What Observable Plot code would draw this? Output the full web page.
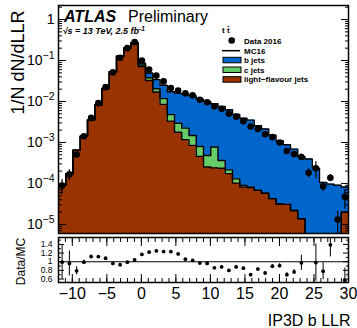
<!DOCTYPE html>
<html><head><meta charset="utf-8">
<script src="https://cdn.jsdelivr.net/npm/d3@7"></script>
<script src="https://cdn.jsdelivr.net/npm/@observablehq/plot@0.6"></script>
<style>
body{margin:0;background:#fff;}
#wrap{position:relative;width:357px;height:328px;}
#main,#ratio{position:absolute;left:0;}
#main{top:0;}
#ratio{top:235px;}
</style></head><body>
<div id="wrap"><div id="main"></div><div id="ratio"></div></div>
<script>
// ---- data (40 bins between -12 and 30) ----
const xDomain = [-12, 30];
const nBins = 40;
const dataVals = [8.9e-5, 1.66e-4, 5.1e-4, 1.41e-3, 3.98e-3, 9.1e-3, 0.0224, 0.0513, 0.117, 0.200,
  0.282, 0.100, 0.0603, 0.0427, 0.0309, 0.0214, 0.0186, 0.0158, 0.0141, 0.0110,
  0.00955, 0.00759, 0.00661, 0.00501, 0.00427, 0.00331, 0.00245, 0.00214, 0.00158, 0.00135,
  0.00100, 6.2e-4, 5.2e-4, 4.4e-4, 1.82e-4, 2.34e-4, 8.5e-5, 1.38e-4, 1.32e-5, 4.7e-5];
const relErr = [0.4, 0.3, 0.12, 0.05, 0.03, 0.02, 0.02, 0.02, 0.02, 0.02,
  0.02, 0.02, 0.02, 0.02, 0.02, 0.02, 0.02, 0.02, 0.02, 0.02,
  0.02, 0.025, 0.025, 0.03, 0.03, 0.03, 0.035, 0.035, 0.04, 0.04,
  0.05, 0.07, 0.07, 0.18, 0.25, 0.44, 0.25, 0.2, 0.6, 0.5];
const light = [8.99e-5, 1.73e-4, 6.49e-4, 1.426e-3, 3.56e-3, 8.15e-3, 0.02075, 0.0535, 0.1265, 0.2014,
  0.271, 0.0714, 0.0324, 0.0170, 0.00851, 0.00331, 0.00178, 0.001175, 0.000851, 0.000457,
  0.000251, 0.00024, 0.000234, 0.000174, 0.000102, 8.13e-5, 7.94e-5, 6.76e-5, 5.75e-5, 4.27e-5,
  3.16e-5, 3.09e-5, 2.19e-5, 1.38e-5, 0, 0, 0, 0, 0, 2.0e-5];
const cJets = [0, 0, 0, 0, 0, 0, 0, 0, 0, 0,
  0, 0.0062, 0.0056, 0.0034, 0.00324, 0.00148, 0.00117, 0.00106, 0.00063, 0.000337,
  0.000228, 0.000536, 0.000129, 4.0e-5, 2.7e-5, 7.8e-6, 1.8e-6, 1.0e-6, 0, 0,
  0, 0, 0, 0, 0, 0, 0, 0, 0, 0];
const bJets = [0, 0, 0, 0, 0, 0, 0, 0, 0, 0,
  0, 0.0079, 0.0114, 0.0137, 0.01325, 0.01251, 0.01283, 0.01272, 0.01223, 0.01051,
  0.00947, 0.00805, 0.00716, 0.00606, 0.00472, 0.00381, 0.00343, 0.00251, 0.00208, 0.00147,
  0.00107, 0.00085, 0.000664, 0.000434, 0.000395, 0.000237, 0.000106, 9.63e-5, 9.03e-5, 6.2e-5];
const ratio = [0.99, 0.96, 0.79, 0.99, 1.12, 1.12, 1.08, 0.96, 0.93, 0.99,
  1.04, 1.17, 1.22, 1.25, 1.235, 1.235, 1.18, 1.06, 1.03, 0.97,
  0.96, 0.86, 0.88, 0.80, 0.88, 0.85, 0.70, 0.83, 0.74, 0.895,
  0.91, 0.70, 0.765, 0.975, null, 0.98, 0.78, 1.39, null, 0.57];

const yTicks = [1e-5, 1e-4, 1e-3, 1e-2, 1e-1, 1];
const xTicks = [-10, -5, 0, 5, 10, 15, 20, 25, 30];
const rTicks = [0.6, 0.8, 1, 1.2, 1.4];
const seriesNames = ["b jets", "c jets", "light\u2212flavour jets"];
const dataName = "Data 2016", mcName = "MC16", procName = "t  t\u0304";
const yTitle = "1/N dN/dLLR", xTitle = "IP3D b LLR", rTitle = "Data/MC";
const atlasText = "ATLAS", statusText = "Preliminary", energyText = "\u221As = 13 TeV, 2.5 fb", lumiExp = "-1";
const colors = {b: "#0066cc", c: "#66cc66", light: "#993300"};

// ---- derived structures ----
const yDomain = [6.0e-6, 2.2];
const rDomain = [0.52, 1.56];
const floorV = 1e-8;
const bw = (xDomain[1] - xDomain[0]) / nBins;
const edges = d3.range(nBins + 1).map(i => xDomain[0] + i * bw);
const centers = d3.range(nBins).map(i => xDomain[0] + (i + 0.5) * bw);
const steps = edges.map((x, i) => {
  const k = Math.min(i, nBins - 1);
  const l = light[k], c = l + cJets[k], m = c + bJets[k];
  return {x, l: Math.max(l, floorV), c: Math.max(c, floorV), m: Math.max(m, floorV)};
});
const pts = centers.map((x, i) => ({x, v: dataVals[i], lo: dataVals[i] * (1 - relErr[i]), hi: dataVals[i] * (1 + relErr[i])}));
const rpts = centers.map((x, i) => ({x, r: ratio[i], lo: ratio[i] * (1 - relErr[i]), hi: ratio[i] * (1 + relErr[i])})).filter(d => d.r != null);
const yMinor = [];
for (let e = -6; e <= 0; e++) for (let k = 2; k <= 9; k++) { const v = k * 10 ** e; if (v >= yDomain[0] && v <= yDomain[1]) yMinor.push(v); }
const xMinor = d3.range(-12, 31, 1);
const rMinor = [0.7, 0.9, 1.1, 1.3, 1.5];

const font = "'Liberation Sans', Arial, Helvetica, sans-serif";
const none = () => "";
const fmtExp = d => d === 1 ? "1" : "10^\u2212" + Math.round(-Math.log10(d));

const mainPlot = Plot.plot({
  width: 357, height: 235, marginLeft: 58, marginRight: 9, marginTop: 5, marginBottom: 2,
  style: {fontFamily: font, background: "transparent", overflow: "visible", color: "black"},
  x: {domain: xDomain, axis: null},
  y: {type: "log", domain: yDomain},
  marks: [
    Plot.areaY(steps, {x: "x", y1: floorV, y2: "l", curve: "step-after", fill: colors.light, clip: true}),
    Plot.areaY(steps, {x: "x", y1: "l", y2: "c", curve: "step-after", fill: colors.c, clip: true}),
    Plot.areaY(steps, {x: "x", y1: "c", y2: "m", curve: "step-after", fill: colors.b, clip: true}),
    Plot.lineY(steps, {x: "x", y: "l", curve: "step-after", stroke: "black", strokeWidth: 1.4, clip: true}),
    Plot.lineY(steps, {x: "x", y: "c", curve: "step-after", stroke: "black", strokeWidth: 1.4, clip: true}),
    Plot.lineY(steps, {x: "x", y: "m", curve: "step-after", stroke: "black", strokeWidth: 1.4, clip: true}),
    Plot.ruleX(pts, {x: "x", y1: "lo", y2: "hi", stroke: "black", strokeWidth: 1.2, clip: true}),
    Plot.dot(pts, {x: "x", y: "v", r: 3.3, fill: "black", clip: true}),
    Plot.frame({stroke: "black", strokeWidth: 1.5}),
    Plot.axisY({anchor: "left", ticks: yTicks, tickSize: -8, tickPadding: 12, tickFormat: fmtExp, fontSize: 14, label: null}),
    Plot.axisY({anchor: "left", ticks: yMinor, tickSize: -4, tickFormat: none, label: null}),
    Plot.axisY({anchor: "right", ticks: yTicks, tickSize: -8, tickFormat: none, label: null}),
    Plot.axisY({anchor: "right", ticks: yMinor, tickSize: -4, tickFormat: none, label: null}),
    Plot.text([yTitle], {frameAnchor: "top-left", dx: -40.5, dy: 5, rotate: -90, textAnchor: "end", lineAnchor: "middle", fontSize: 18})
  ]
});
document.getElementById("main").appendChild(mainPlot);
mainPlot.querySelectorAll("text").forEach(t => {
  const s = t.textContent;
  if (s.includes("^")) {
    const [b, e] = s.split("^");
    t.textContent = b;
    const ts = document.createElementNS("http://www.w3.org/2000/svg", "tspan");
    ts.setAttribute("dy", "-0.6em");
    ts.setAttribute("font-size", "10.5");
    ts.textContent = e;
    t.appendChild(ts);
  }
});

const ratioPlot = Plot.plot({
  width: 357, height: 93, marginLeft: 58, marginRight: 9, marginTop: 2, marginBottom: 46,
  style: {fontFamily: font, background: "transparent", overflow: "visible", color: "black"},
  x: {domain: xDomain},
  y: {domain: rDomain},
  marks: [
    Plot.ruleY([1], {stroke: "black", strokeWidth: 1.2}),
    Plot.ruleX(rpts, {x: "x", y1: "lo", y2: "hi", stroke: "black", strokeWidth: 1, clip: true}),
    Plot.dot(rpts, {x: "x", y: "r", r: 1.9, fill: "black", clip: true}),
    Plot.frame({stroke: "black", strokeWidth: 1.5}),
    Plot.axisX({anchor: "bottom", ticks: xTicks, tickSize: -8, tickPadding: 13, fontSize: 16, label: null,
      tickFormat: d => d < 0 ? "\u2212" + Math.abs(d) : String(d)}),
    Plot.axisX({anchor: "bottom", ticks: xMinor, tickSize: -4, tickFormat: none, label: null}),
    Plot.axisX({anchor: "top", ticks: xTicks, tickSize: -8, tickFormat: none, label: null}),
    Plot.axisX({anchor: "top", ticks: xMinor, tickSize: -4, tickFormat: none, label: null}),
    Plot.axisY({anchor: "left", ticks: rTicks, tickSize: -6, tickPadding: 12, fontSize: 8.5, label: null,
      tickFormat: d => String(d)}),
    Plot.axisY({anchor: "left", ticks: rMinor, tickSize: -3, tickFormat: none, label: null}),
    Plot.axisY({anchor: "right", ticks: rTicks, tickSize: -6, tickFormat: none, label: null}),
    Plot.axisY({anchor: "right", ticks: rMinor, tickSize: -3, tickFormat: none, label: null}),
    Plot.text([xTitle], {frameAnchor: "bottom-right", dx: 2, dy: 38, textAnchor: "end", lineAnchor: "middle", fontSize: 16}),
    Plot.text([rTitle], {frameAnchor: "left", dx: -37, dy: 1.5, rotate: -90, textAnchor: "middle", lineAnchor: "middle", fontSize: 12})
  ]
});
document.getElementById("ratio").appendChild(ratioPlot);

// ---- annotations and legend ----
const anno = d3.select("#wrap").append("svg")
  .attr("width", 357).attr("height", 328)
  .style("position", "absolute").style("left", "0px").style("top", "0px")
  .attr("font-family", font);
anno.append("text").attr("x", 64).attr("y", 22).attr("font-size", 16).attr("font-weight", "bold").attr("font-style", "italic").text(atlasText);
anno.append("text").attr("x", 128).attr("y", 22).attr("font-size", 16).text(statusText);
const en = anno.append("text").attr("x", 62.5).attr("y", 34).attr("font-size", 9).attr("font-weight", "bold").attr("font-style", "italic").text(energyText);
en.append("tspan").attr("dy", -3.5).attr("font-size", 6.5).text(lumiExp);

const lx = 222, tx = 244;
anno.append("text").attr("x", lx).attr("y", 33).attr("font-size", 8).attr("font-weight", "bold").text(procName);
anno.append("circle").attr("cx", 231.7).attr("cy", 40.5).attr("r", 3.3).attr("fill", "black");
anno.append("text").attr("x", tx).attr("y", 43.5).attr("font-size", 8).attr("font-weight", "bold").text(dataName);
anno.append("line").attr("x1", lx).attr("x2", 240).attr("y1", 50.7).attr("y2", 50.7).attr("stroke", "black").attr("stroke-width", 1.5);
anno.append("text").attr("x", tx).attr("y", 53.5).attr("font-size", 8).attr("font-weight", "bold").text(mcName);
const boxColors = [colors.b, colors.c, colors.light];
seriesNames.forEach((name, i) => {
  const y0 = 57.3 + i * 9.7;
  anno.append("rect").attr("x", 223).attr("y", y0).attr("width", 18).attr("height", 5.5)
    .attr("fill", boxColors[i]).attr("stroke", "black").attr("stroke-width", 1);
  anno.append("text").attr("x", tx).attr("y", y0 + 5.6).attr("font-size", 8).attr("font-weight", "bold").text(name);
});
</script>
</body></html>
